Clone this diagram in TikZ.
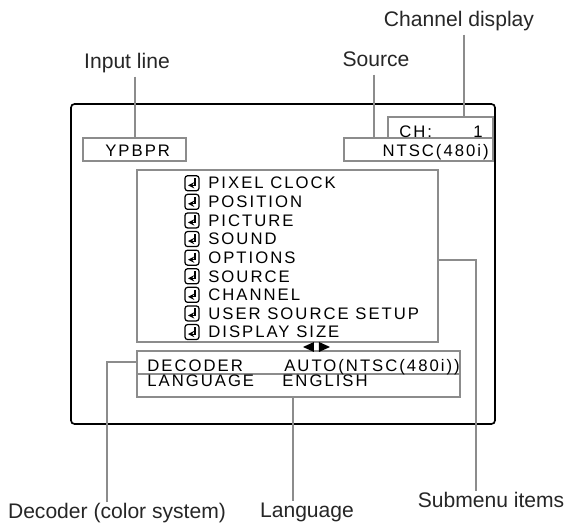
\documentclass[tikz,border=0pt]{standalone}
\usepackage{fontspec}
\setmainfont{Liberation Sans}
\newfontfamily\osd[LetterSpace=12]{Liberation Sans}
\usetikzlibrary{positioning, fit, arrows}
\definecolor{osdgray}{HTML}{8C8C8C}

\tikzset{
  retkey/.pic={
    \draw[line width=0.7pt, rounded corners=1.5pt] (-7,-7.5) rectangle (7,7.5);
    \draw[line width=0.6pt, ->, >=stealth] (3,-5) -- (3,2) -- (-4,2);
  }
}

\begin{document}
\begin{tikzpicture}[x=0.02cm, y=-0.02cm, >=stealth,
    box/.style={draw=osdgray, line width=1.1pt, inner sep=0pt},
    lead/.style={draw=osdgray, line width=1.1pt},
    lbl/.style={font=\fontsize{12}{14}\selectfont, text=black!85, inner sep=2pt,
      text height=0.72em, text depth=0.22em, anchor=base},
    osdtxt/.style={font=\osd\fontsize{9.5}{11}\selectfont, inner sep=0pt, anchor=base west}]
  \useasboundingbox (0,0) rectangle (566,524);

  \node[fit={(71,104) (495,424)}, draw, line width=0.95pt, rounded corners=2pt, inner sep=0pt] (screen) {};
  \node[box, fit={(83,138) (186,161)}] (inbox) {};
  \node[box, fit={(344,138) (493,161)}] (srcbox) {};
  \node[box, fit={(388,117) (493,138)}] (chbox) {};
  \node[box, fit={(137,170) (438,342)}] (menubox) {};
  \node[box, fit={(137,351) (460,397)}] (decbox) {};
  \draw[lead] (decbox.west |- 0,374) -- (decbox.east |- 0,374);

  \node[osdtxt] (inname) at (105,156) {YPBPR};
  \node[osdtxt, anchor=base east] (srcname) at (489,156) {NTSC(480i)};
  \node[osdtxt] (chname) at (399,137) {CH:};
  \node[osdtxt, anchor=base east] (chnum) at (483,137) {1};

  \foreach \txt [count=\i] in {PIXEL CLOCK, POSITION, PICTURE, SOUND, OPTIONS,
      SOURCE, CHANNEL, USER SOURCE SETUP, DISPLAY SIZE} {
    \node[osdtxt] (item\i) at (208, {189+(\i-1)*18.6}) {\txt};
    \pic at ([xshift=-0.32cm]item\i.west) {retkey};
  }

  \fill (303,347) -- (314,342) -- (314,352) -- cycle;
  \fill (330,347) -- (319,342) -- (319,352) -- cycle;

  \node[osdtxt] (decname) at (147,372) {DECODER};
  \node[osdtxt] (decval) at (284,372) {AUTO(NTSC(480i))};
  \node[osdtxt] (langname) at (147,387) {LANGUAGE};
  \node[osdtxt] (langval) at (282,387) {ENGLISH};

  \node[lbl] (chlbl) at (459,27) {Channel display};
  \node[lbl] (srclbl) at (376,67) {Source};
  \node[lbl] (inlbl) at (127,69) {Input line};
  \node[lbl] (declbl) at (117,519) {Decoder (color system)};
  \node[lbl] (langlbl) at (307,518) {Language};
  \node[lbl] (sublbl) at (491,508) {Submenu items};

  \draw[lead] (chlbl.south -| 464,0) -- (chbox.north -| 464,0);
  \draw[lead] (srclbl.south -| 374,0) -- (srcbox.north -| 374,0);
  \draw[lead] (inlbl.south -| 135,0) -- (inbox.north -| 135,0);
  \draw[lead] (declbl.north -| 107,0) |- (decbox.west |- 0,362);
  \draw[lead] (decbox.south -| 293,0) -- (langlbl.north -| 293,0);
  \draw[lead] (menubox.east |- 0,260) -| (sublbl.north -| 476,0);
\end{tikzpicture}
\end{document}
